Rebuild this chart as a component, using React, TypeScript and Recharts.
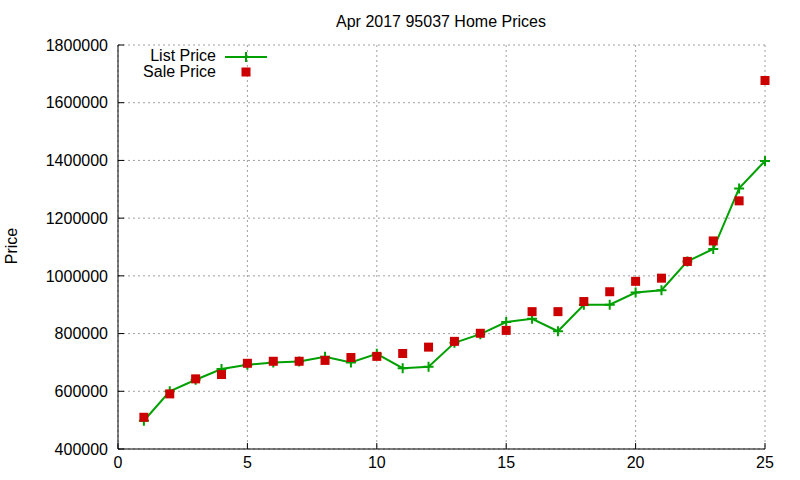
import React from 'react';
import { LineChart, Line, XAxis, YAxis, CartesianGrid } from 'recharts';

const days = [1, 2, 3, 4, 5, 6, 7, 8, 9, 10, 11, 12, 13, 14, 15, 16, 17, 18, 19, 20, 21, 22, 23, 24, 25];
const listPrice = [498000, 600000, 640000, 677000, 692000, 700000, 703000, 720000, 700000, 730000, 680000, 685000, 768000, 798000, 840000, 851000, 808000, 900000, 900000, 942000, 950000, 1050000, 1093000, 1303000, 1398000];
const salePrice = [510000, 591000, 643000, 658000, 697000, 704000, 704000, 707000, 717000, 721000, 731000, 753000, 773000, 801000, 811000, 876000, 876000, 911000, 945000, 981000, 992000, 1050000, 1121000, 1260000, 1677000];
const xTicks = [0, 5, 10, 15, 20, 25];
const yTicks = [400000, 600000, 800000, 1000000, 1200000, 1400000, 1600000, 1800000];

const title = 'Apr 2017 95037 Home Prices';
const yLabel = 'Price';
const listName = 'List Price';
const saleName = 'Sale Price';

const GREEN = '#00a000';
const RED = '#cc0000';
const FONT = '"Liberation Sans", Arial, sans-serif';

const data = days.map((d, i) => ({ x: d, list: listPrice[i], sale: salePrice[i] }));

const PlusDot = (props: any) => {
  const { cx, cy, index } = props;
  if (cx == null || cy == null) return null;
  return (
    <path
      key={`p${index}`}
      d={`M${cx - 5},${cy}H${cx + 5}M${cx},${cy - 5}V${cy + 5}`}
      stroke={GREEN}
      strokeWidth={2}
      fill="none"
    />
  );
};

const SquareDot = (props: any) => {
  const { cx, cy, index } = props;
  if (cx == null || cy == null) return null;
  return <rect key={`s${index}`} x={cx - 4.5} y={cy - 4.5} width={9} height={9} fill={RED} />;
};

const tickStyle = { fill: '#000', fontSize: 16, fontFamily: FONT };

export default function App() {
  return (
    <div style={{ position: 'absolute', left: 0, top: 0, width: 800, height: 480, background: '#fff' }}>
      <LineChart
        width={800}
        height={480}
        data={data}
        margin={{ top: 45, right: 35, bottom: 0, left: 0 }}
      >
        <CartesianGrid stroke="#a0a0a0" strokeDasharray="2 3" strokeWidth={1} />
        <XAxis
          dataKey="x"
          type="number"
          domain={[0, 25]}
          ticks={xTicks}
          height={31}
          stroke="#000"
          axisLine={{ stroke: '#000', strokeWidth: 1 }}
          tickLine={{ stroke: '#000' }}
          tickSize={-6}
          tickMargin={14}
          tick={tickStyle}
          interval={0}
        />
        <XAxis
          xAxisId="top"
          dataKey="x"
          type="number"
          orientation="top"
          domain={[0, 25]}
          ticks={xTicks}
          height={0}
          axisLine={{ stroke: '#000', strokeWidth: 1 }}
          tickLine={{ stroke: '#000' }}
          tickSize={-6}
          tick={false}
          interval={0}
        />
        <YAxis
          type="number"
          domain={[400000, 1800000]}
          ticks={yTicks}
          width={118}
          axisLine={{ stroke: '#000', strokeWidth: 1 }}
          tickLine={{ stroke: '#000' }}
          tickSize={-6}
          tickMargin={16}
          tick={tickStyle}
          interval={0}
        />
        <YAxis
          yAxisId="right"
          orientation="right"
          type="number"
          domain={[400000, 1800000]}
          ticks={yTicks}
          width={0}
          axisLine={{ stroke: '#000', strokeWidth: 1 }}
          tickLine={{ stroke: '#000' }}
          tickSize={-6}
          tick={false}
          interval={0}
        />
        <Line
          dataKey="list"
          name={listName}
          stroke={GREEN}
          strokeWidth={2}
          dot={PlusDot}
          activeDot={false}
          isAnimationActive={false}
        />
        <Line
          dataKey="sale"
          name={saleName}
          stroke="none"
          dot={SquareDot}
          activeDot={false}
          isAnimationActive={false}
        />
      </LineChart>
      <svg
        width={800}
        height={480}
        style={{ position: 'absolute', left: 0, top: 0, pointerEvents: 'none' }}
      >
        <text x={441} y={27} textAnchor="middle" fontSize={16} fontFamily={FONT} fill="#000">
          {title}
        </text>
        <text
          x={17}
          y={246}
          transform="rotate(-90 17 246)"
          textAnchor="middle"
          fontSize={16}
          fontFamily={FONT}
          fill="#000"
        >
          {yLabel}
        </text>
        <text x={216} y={61} textAnchor="end" fontSize={16} fontFamily={FONT} fill="#000">
          {listName}
        </text>
        <line x1={225} y1={57} x2={267} y2={57} stroke={GREEN} strokeWidth={2} />
        <path d="M241,57H251M246,52V62" stroke={GREEN} strokeWidth={2} />
        <text x={216} y={77} textAnchor="end" fontSize={16} fontFamily={FONT} fill="#000">
          {saleName}
        </text>
        <rect x={241.5} y={67.5} width={9} height={9} fill={RED} />
      </svg>
    </div>
  );
}
